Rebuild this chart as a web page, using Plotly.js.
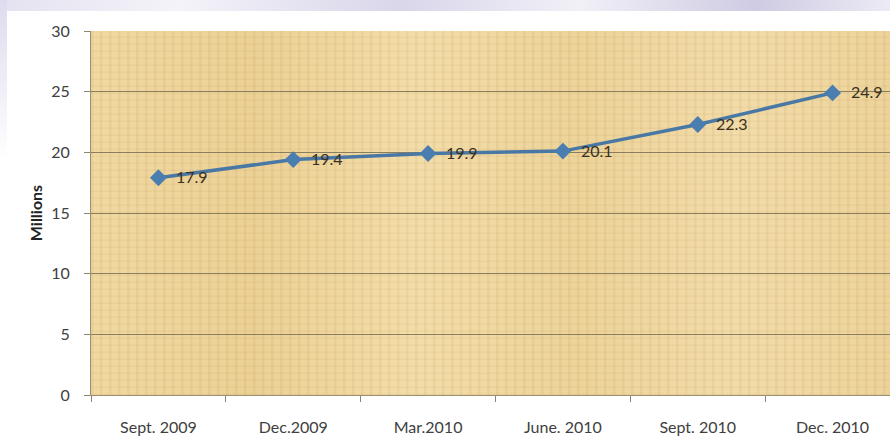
<!DOCTYPE html>
<html><head><meta charset="utf-8">
<script src="https://cdn.plot.ly/plotly-3.0.1.min.js"></script>
<style>
html,body{margin:0;padding:0;width:890px;height:440px;overflow:hidden;background:#fff;}
#band{position:absolute;left:0;top:0;width:890px;height:11px;background:linear-gradient(90deg,#e4e2f0 0%,#f4f3f9 20%,#d9d6ea 45%,#f1f0f7 65%,#cfcbe3 85%,#eceaf4 100%);}
#side{position:absolute;left:0;top:0;width:7px;height:160px;background:linear-gradient(180deg,#dddbee,#ffffff);}
#tex{position:absolute;left:91px;top:31px;width:809px;height:364px;
background:
repeating-linear-gradient(90deg,rgba(180,140,70,0.09) 0px,rgba(180,140,70,0.09) 2px,rgba(255,240,200,0.08) 3px,rgba(255,240,200,0.08) 9px),
repeating-linear-gradient(0deg,rgba(170,130,60,0.07) 0px,rgba(170,130,60,0.07) 1px,rgba(255,245,210,0.06) 2px,rgba(255,245,210,0.06) 7px),
linear-gradient(90deg,#eed59c 0%,#e9cc8e 20%,#f1d9a3 40%,#eacf93 60%,#f0d8a4 80%,#eace92 100%);}
#chart{position:absolute;left:0;top:0;}
</style></head>
<body>
<div id="band"></div><div id="side"></div>
<div id="tex"></div>
<div id="chart"></div>
<script>
var categories = ["Sept. 2009","Dec.2009","Mar.2010","June. 2010","Sept. 2010","Dec. 2010"];
var subscribers = [17.9, 19.4, 19.9, 20.1, 22.3, 24.9];
var yTicks = [0,5,10,15,20,25,30];

var FONT = 'Lato, "Open Sans", sans-serif';
var trace = {
  x: categories, y: subscribers, type: 'scatter', mode: 'lines+markers',
  line: {color: '#4a78a5', width: 3.5},
  marker: {symbol: 'diamond', size: 13, color: '#4a7db0'},
  cliponaxis: false, hoverinfo: 'none'
};
var labels = categories.map(function(c, i){
  return {x: c, y: subscribers[i], xref: 'x', yref: 'y', text: subscribers[i].toFixed(1),
    showarrow: false, xanchor: 'left', yanchor: 'middle', xshift: 16, yshift: 1,
    font: {family: FONT, size: 16, color: '#3b3020'}};
});
var layout = {
  width: 900, height: 440,
  margin: {l: 91, r: 0, t: 31, b: 45},
  paper_bgcolor: 'rgba(0,0,0,0)', plot_bgcolor: 'rgba(0,0,0,0)',
  font: {family: FONT, size: 16, color: '#404040'},
  showlegend: false,
  annotations: labels,
  xaxis: {
    type: 'category', range: [-0.5, 5.5], tickson: 'boundaries',
    ticks: 'outside', ticklen: 6, tickcolor: '#8c8670', tickwidth: 1,
    showline: true, linecolor: '#9a8f70', linewidth: 1,
    showgrid: false, zeroline: false, fixedrange: true,
    tickfont: {size: 16, color: '#404040'}, ticklabelstandoff: 18
  },
  yaxis: {
    range: [0, 30], tickvals: yTicks, ticktext: yTicks.map(String),
    ticks: 'outside', ticklen: 6, tickcolor: '#8c8670',
    showline: true, linecolor: '#9a8f70', linewidth: 1,
    showgrid: true, gridcolor: '#8a7e5e', gridwidth: 1,
    zeroline: false, fixedrange: true,
    tickfont: {size: 16, color: '#404040'}, ticklabelstandoff: 11,
    title: {text: '<b>Millions</b>', font: {size: 16, color: '#222'}, standoff: 4}
  }
};
Plotly.newPlot('chart', [trace], layout, {staticPlot: true, displayModeBar: false});
</script>
</body></html>
